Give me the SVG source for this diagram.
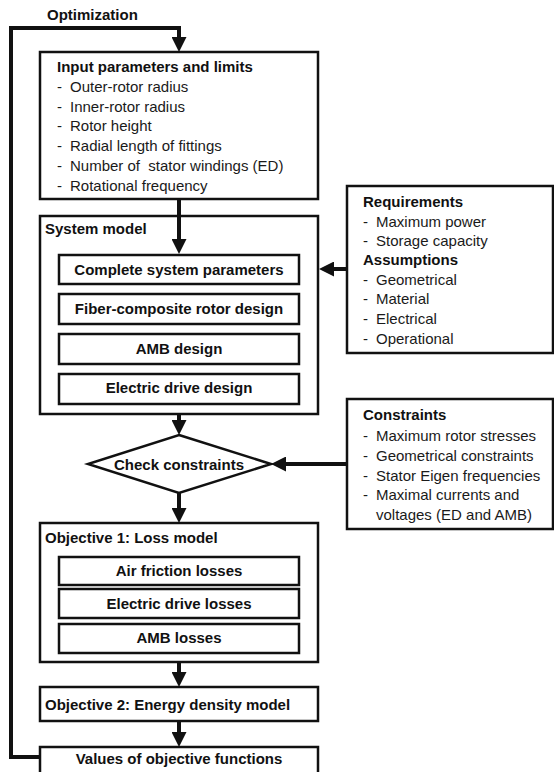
<svg xmlns="http://www.w3.org/2000/svg" width="554" height="772" viewBox="0 0 554 772">
<defs>
<style>
.box{fill:#fff;stroke:#111;stroke-width:2.5}
.con{fill:none;stroke:#111;stroke-width:4}
.b{font-family:"Liberation Sans",Arial,sans-serif;font-weight:bold;font-size:15px;fill:#111}
.r{font-family:"Liberation Sans",Arial,sans-serif;font-size:15px;fill:#1a1a1a}
.c{text-anchor:middle}
</style>
<marker id="ah" viewBox="0 0 15 15" refX="3" refY="7.5" markerWidth="15" markerHeight="15" markerUnits="userSpaceOnUse" orient="auto">
<path d="M0,0 L15,7.5 L0,15 z" fill="#111"/>
</marker>
</defs>
<rect width="554" height="772" fill="#fff"/>

<text class="b" x="47" y="20">Optimization</text>

<g id="input">
<rect class="box" x="40" y="52" width="278" height="147"/>
<text class="b" x="57" y="72">Input parameters and limits</text>
<text class="r" x="57" y="92">- <tspan x="70">Outer-rotor radius</tspan></text>
<text class="r" x="57" y="112">- <tspan x="70">Inner-rotor radius</tspan></text>
<text class="r" x="57" y="131">- <tspan x="70">Rotor height</tspan></text>
<text class="r" x="57" y="151">- <tspan x="70">Radial length of fittings</tspan></text>
<text class="r" x="57" y="171" xml:space="preserve">- <tspan x="70">Number of  stator windings (ED)</tspan></text>
<text class="r" x="57" y="191">- <tspan x="70">Rotational frequency</tspan></text>
</g>

<g id="system-model">
<rect class="box" x="40" y="216" width="278" height="198"/>
<text class="b" x="45" y="234">System model</text>
</g>
<g id="complete-params">
<rect class="box" x="59" y="255" width="240" height="29"/>
<text class="b c" x="179" y="275">Complete system parameters</text>
</g>
<g id="rotor-design">
<rect class="box" x="59" y="294" width="240" height="30"/>
<text class="b c" x="179" y="314">Fiber-composite rotor design</text>
</g>
<g id="amb-design">
<rect class="box" x="59" y="334" width="240" height="30"/>
<text class="b c" x="179" y="354">AMB design</text>
</g>
<g id="ed-design">
<rect class="box" x="59" y="374" width="240" height="30"/>
<text class="b c" x="179" y="393">Electric drive design</text>
</g>

<g id="check">
<polygon class="box" points="179,435 271,464 179,493 88,464"/>
<text class="b c" x="179" y="470">Check constraints</text>
</g>

<g id="requirements">
<rect class="box" x="347" y="186" width="206" height="167"/>
<text class="b" x="363" y="207">Requirements</text>
<text class="r" x="363" y="227">- <tspan x="376">Maximum power</tspan></text>
<text class="r" x="363" y="246">- <tspan x="376">Storage capacity</tspan></text>
<text class="b" x="363" y="265">Assumptions</text>
<text class="r" x="363" y="285">- <tspan x="376">Geometrical</tspan></text>
<text class="r" x="363" y="304">- <tspan x="376">Material</tspan></text>
<text class="r" x="363" y="324">- <tspan x="376">Electrical</tspan></text>
<text class="r" x="363" y="344">- <tspan x="376">Operational</tspan></text>
</g>

<g id="constraints">
<rect class="box" x="347" y="399" width="206" height="130"/>
<text class="b" x="363" y="420">Constraints</text>
<text class="r" x="363" y="441">- <tspan x="376">Maximum rotor stresses</tspan></text>
<text class="r" x="363" y="461">- <tspan x="376">Geometrical constraints</tspan></text>
<text class="r" x="363" y="481">- <tspan x="376">Stator Eigen frequencies</tspan></text>
<text class="r" x="363" y="500">- <tspan x="376">Maximal currents and</tspan></text>
<text class="r" x="376" y="520">voltages (ED and AMB)</text>
</g>

<g id="loss-model">
<rect class="box" x="40" y="523" width="278" height="139"/>
<text class="b" x="45" y="543">Objective 1: Loss model</text>
</g>
<g id="air-friction">
<rect class="box" x="59" y="557" width="240" height="28"/>
<text class="b c" x="179" y="576">Air friction losses</text>
</g>
<g id="ed-losses">
<rect class="box" x="59" y="589" width="240" height="29"/>
<text class="b c" x="179" y="609">Electric drive losses</text>
</g>
<g id="amb-losses">
<rect class="box" x="59" y="624" width="240" height="29"/>
<text class="b c" x="179" y="643">AMB losses</text>
</g>

<g id="energy-density">
<rect class="box" x="40" y="687" width="278" height="34"/>
<text class="b" x="45" y="710">Objective 2: Energy density model</text>
</g>

<g id="values">
<rect class="box" x="40" y="747" width="278" height="32"/>
<text class="b c" x="179" y="764">Values of objective functions</text>
</g>

<g id="connectors">
<path class="con" d="M40,757 H11 V28 H179 V40" marker-end="url(#ah)"/>
<path class="con" d="M179,199 V242" marker-end="url(#ah)"/>
<path class="con" d="M179,414 V423" marker-end="url(#ah)"/>
<path class="con" d="M179,493 V511" marker-end="url(#ah)"/>
<path class="con" d="M179,662 V675" marker-end="url(#ah)"/>
<path class="con" d="M179,721 V735" marker-end="url(#ah)"/>
<path class="con" d="M347,269 H331" marker-end="url(#ah)"/>
<path class="con" d="M347,464 H283" marker-end="url(#ah)"/>
</g>
</svg>
